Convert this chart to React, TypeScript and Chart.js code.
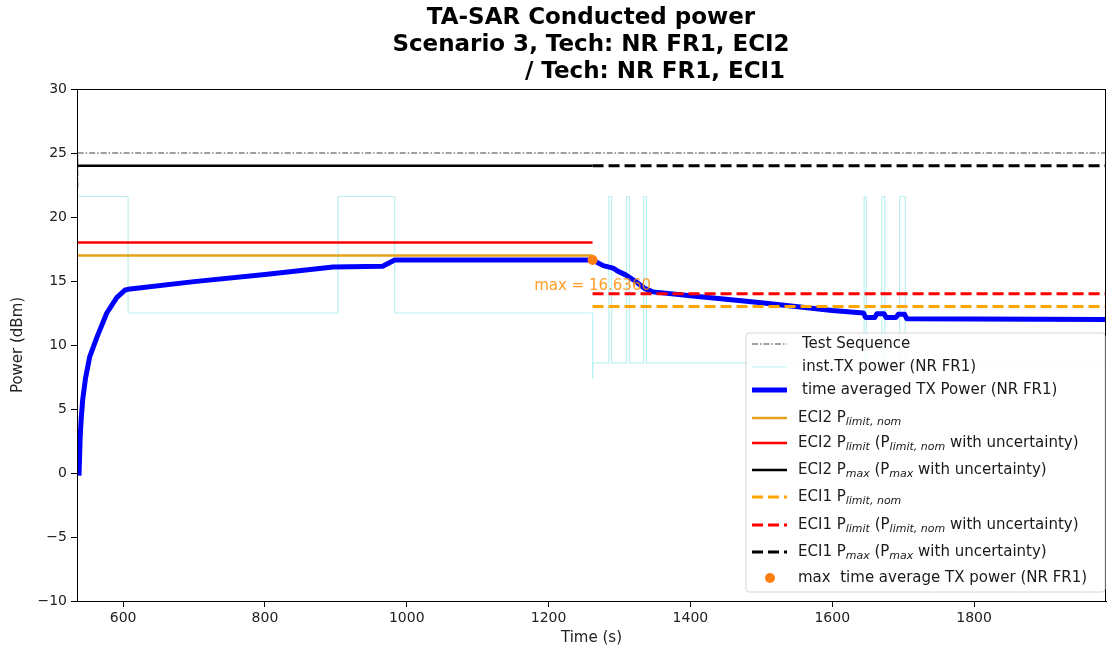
import React, { useEffect, useRef } from 'react';
import { Chart, registerables } from 'chart.js';

Chart.register(...registerables);

// ---------- text ----------
const titleLines = ['TA-SAR Conducted power', 'Scenario 3, Tech: NR FR1, ECI2', '/ Tech: NR FR1, ECI1'];
const xAxisLabel = 'Time (s)';
const yAxisLabel = 'Power (dBm)';

// ---------- axes ----------
const xTicks = [600, 800, 1000, 1200, 1400, 1600, 1800];
const yTicks = [-10, -5, 0, 5, 10, 15, 20, 25, 30];
const xMin = 535;
const xMax = 1986;
const yMin = -10;
const yMax = 30;

// ---------- series ----------
const testSeqTime = [536, 536, 1986];
const testSeqPower = [22.3, 25, 25];

const instTime = [536, 607, 607, 903, 903, 983, 983, 1262, 1262, 1263,
  1285, 1285, 1289, 1289, 1310, 1310, 1314, 1314, 1334, 1334, 1338, 1338,
  1645, 1645, 1648, 1648, 1670, 1670, 1674, 1674, 1695, 1695, 1703, 1703, 1986];
const instPower = [21.6, 21.6, 12.5, 12.5, 21.6, 21.6, 12.5, 12.5, 7.4, 8.6,
  8.6, 21.6, 21.6, 8.6, 8.6, 21.6, 21.6, 8.6, 8.6, 21.6, 21.6, 8.6,
  8.6, 21.6, 21.6, 8.6, 8.6, 21.6, 21.6, 8.6, 8.6, 21.6, 21.6, 8.6, 8.6];

const avgTime = [537.8, 539.5, 541, 543, 547, 553, 563, 577, 591, 603, 607,
  700, 800, 896, 966, 983, 1262,
  1277, 1291, 1298, 1308, 1322, 1336, 1347, 1400, 1500, 1600, 1644,
  1647, 1660, 1663, 1673, 1676, 1690, 1693, 1702, 1705, 1986];
const avgPower = [-0.2, 2.8, 4.3, 5.7, 7.4, 9.1, 10.6, 12.5, 13.7, 14.3, 14.35,
  14.95, 15.5, 16.1, 16.15, 16.636, 16.636,
  16.2, 16.0, 15.75, 15.5, 15.0, 14.4, 14.15, 13.85, 13.3, 12.7, 12.5,
  12.15, 12.15, 12.45, 12.45, 12.15, 12.15, 12.4, 12.4, 12.05, 12.0];

const eci2Time = [535, 1262];
const eci1Time = [1262, 1986];
const eci2PlimitNom = [17, 17];
const eci2Plimit = [18, 18];
const eci2Pmax = [24, 24];
const eci1PlimitNom = [13, 13];
const eci1Plimit = [14, 14];
const eci1Pmax = [24, 24];

const FONT = '"DejaVu Sans", "Liberation Sans", sans-serif';

type Seg = [string, boolean?];

const toXY = (xs: number[], ys: number[]) => xs.map((x, i) => ({ x, y: ys[i] }));

export default function App() {
  const ref = useRef<HTMLCanvasElement | null>(null);

  useEffect(() => {
    const canvas = ref.current;
    if (!canvas) return;

    let maxIdx = 0;
    avgPower.forEach((v, i) => { if (v > avgPower[maxIdx]) maxIdx = i; });
    avgPower.forEach((v, i) => { if (v === avgPower[maxIdx]) maxIdx = i; });
    const maxT = avgTime[maxIdx];
    const maxP = avgPower[maxIdx];

    const dash = [11, 5];

    const datasets: any[] = [
      { label: 'Test Sequence', legend: [['Test Sequence']] as Seg[], data: toXY(testSeqTime, testSeqPower), borderColor: '#808080', borderWidth: 1.5, borderDash: [6, 2, 1.5, 2], order: 9 },
      { label: 'inst.TX power (NR FR1)', legend: [['inst.TX power (NR FR1)']] as Seg[], data: toXY(instTime, instPower), borderColor: 'rgba(175,238,238,0.85)', borderWidth: 1.2, order: 8 },
      { label: 'time averaged TX Power (NR FR1)', legend: [['time averaged TX Power (NR FR1)']] as Seg[], data: toXY(avgTime, avgPower), borderColor: '#0000ff', borderWidth: 5, order: 7 },
      { label: 'ECI2 Plimit,nom', legend: [['ECI2 P'], ['limit, nom', true]] as Seg[], data: toXY(eci2Time, eci2PlimitNom), borderColor: '#e6a21c', borderWidth: 2.5, order: 6 },
      { label: 'ECI2 Plimit', legend: [['ECI2 P'], ['limit', true], [' (P'], ['limit, nom', true], [' with uncertainty)']] as Seg[], data: toXY(eci2Time, eci2Plimit), borderColor: '#ff0000', borderWidth: 2.5, order: 5 },
      { label: 'ECI2 Pmax', legend: [['ECI2 P'], ['max', true], [' (P'], ['max', true], [' with uncertainty)']] as Seg[], data: toXY(eci2Time, eci2Pmax), borderColor: '#000000', borderWidth: 2.5, order: 4 },
      { label: 'ECI1 Plimit,nom', legend: [['ECI1 P'], ['limit, nom', true]] as Seg[], data: toXY(eci1Time, eci1PlimitNom), borderColor: '#ffa500', borderWidth: 3, borderDash: dash, order: 3 },
      { label: 'ECI1 Plimit', legend: [['ECI1 P'], ['limit', true], [' (P'], ['limit, nom', true], [' with uncertainty)']] as Seg[], data: toXY(eci1Time, eci1Plimit), borderColor: '#ff0000', borderWidth: 3, borderDash: dash, order: 2 },
      { label: 'ECI1 Pmax', legend: [['ECI1 P'], ['max', true], [' (P'], ['max', true], [' with uncertainty)']] as Seg[], data: toXY(eci1Time, eci1Pmax), borderColor: '#000000', borderWidth: 3, borderDash: dash, order: 1 },
      { label: 'max time average TX power (NR FR1)', legend: [['max  time average TX power (NR FR1)']] as Seg[], data: [{ x: maxT, y: maxP }], borderColor: '#ff7f0e', backgroundColor: '#ff7f0e', showLine: false, pointRadius: 5, pointBorderWidth: 0, order: 0 },
    ];
    datasets.forEach((d) => {
      if (d.pointRadius === undefined) d.pointRadius = 0;
      d.fill = false;
      d.tension = 0;
      d.borderJoinStyle = 'round';
    });

    const drawRich = (ctx: CanvasRenderingContext2D, segs: Seg[], x: number, y: number) => {
      let cx = x;
      for (const [t, sub] of segs) {
        ctx.font = sub ? `italic 11px ${FONT}` : `15px ${FONT}`;
        ctx.fillText(t, cx, sub ? y + 4 : y);
        cx += ctx.measureText(t).width;
      }
    };

    const overlay = {
      id: 'overlay',
      afterDatasetsDraw(chart: any) {
        const ctx: CanvasRenderingContext2D = chart.ctx;
        const { chartArea } = chart;
        const xs = chart.scales.x;
        const ys = chart.scales.y;
        ctx.save();
        // frame
        ctx.strokeStyle = '#000';
        ctx.lineWidth = 1;
        ctx.strokeRect(chartArea.left + 0.5, chartArea.top + 0.5, chartArea.right - chartArea.left - 1, chartArea.bottom - chartArea.top);

        // max annotation
        const px = xs.getPixelForValue(maxT);
        const py = ys.getPixelForValue(maxP);
        ctx.fillStyle = 'rgba(255,140,0,0.85)';
        ctx.font = `15px ${FONT}`;
        ctx.textAlign = 'center';
        ctx.textBaseline = 'middle';
        ctx.fillText(`max = ${maxP.toFixed(4)}`, px, py + 26);

        // legend
        const lx = 746, ly = 333, lw = 359, lh = 259;
        ctx.beginPath();
        const r = 3;
        ctx.moveTo(lx + r, ly);
        ctx.arcTo(lx + lw, ly, lx + lw, ly + lh, r);
        ctx.arcTo(lx + lw, ly + lh, lx, ly + lh, r);
        ctx.arcTo(lx, ly + lh, lx, ly, r);
        ctx.arcTo(lx, ly, lx + lw, ly, r);
        ctx.closePath();
        ctx.fillStyle = 'rgba(255,255,255,0.85)';
        ctx.fill();
        ctx.strokeStyle = '#d6d6d6';
        ctx.lineWidth = 1;
        ctx.stroke();

        const rowOffsets = [11, 34, 57, 85, 110, 137, 164, 192, 219, 245];
        ctx.textAlign = 'left';
        ctx.textBaseline = 'middle';
        chart.data.datasets.forEach((d: any, i: number) => {
          const y = ly + rowOffsets[i];
          if (d.showLine === false) {
            ctx.beginPath();
            ctx.fillStyle = d.backgroundColor;
            ctx.arc(770, y, 5, 0, Math.PI * 2);
            ctx.fill();
          } else {
            ctx.beginPath();
            ctx.strokeStyle = d.borderColor;
            ctx.lineWidth = d.borderWidth;
            ctx.setLineDash(d.borderDash || []);
            ctx.moveTo(752, y);
            ctx.lineTo(787, y);
            ctx.stroke();
            ctx.setLineDash([]);
          }
          ctx.fillStyle = '#1a1a1a';
          drawRich(ctx, d.legend, i < 3 ? 802 : 798, y);
        });

        // title
        ctx.fillStyle = '#000';
        ctx.font = `bold 23px ${FONT}`;
        ctx.textAlign = 'center';
        ctx.textBaseline = 'middle';
        ctx.fillText(titleLines[0], 591, 18);
        ctx.fillText(titleLines[1], 591, 45);
        ctx.fillText(titleLines[2], 655, 72);
        ctx.restore();
      },
    };

    const chart = new Chart(canvas, {
      type: 'line',
      data: { datasets },
      options: {
        animation: false,
        responsive: false,
        layout: { autoPadding: false, padding: { top: 89, right: 2, left: 0, bottom: 0 } },
        plugins: { legend: { display: false }, title: { display: false }, tooltip: { enabled: false } },
        scales: {
          x: {
            type: 'linear',
            min: xMin,
            max: xMax,
            afterFit: (s: any) => { s.height = 50; },
            afterBuildTicks: (s: any) => { s.ticks = xTicks.map((v) => ({ value: v })); },
            ticks: { color: '#222', font: { family: FONT, size: 14 }, padding: 3, maxRotation: 0, autoSkip: false, callback: (v: any) => String(v) },
            grid: { display: true, drawOnChartArea: false, drawTicks: true, tickLength: 6, color: '#000' },
            border: { display: true, color: '#000', width: 1 },
            title: { display: true, text: xAxisLabel, color: '#222', font: { family: FONT, size: 15 }, padding: { top: 0, bottom: 4 } },
          },
          y: {
            type: 'linear',
            min: yMin,
            max: yMax,
            afterFit: (s: any) => { s.width = 77; },
            afterBuildTicks: (s: any) => { s.ticks = yTicks.map((v) => ({ value: v })); },
            ticks: { color: '#222', font: { family: FONT, size: 14 }, padding: 4, callback: (v: any) => String(v).replace('-', '\u2212') },
            grid: { display: true, drawOnChartArea: false, drawTicks: true, tickLength: 6, color: '#000' },
            border: { display: true, color: '#000', width: 1 },
            title: { display: true, text: yAxisLabel, color: '#222', font: { family: FONT, size: 15 }, padding: { top: 9, bottom: 0 } },
          },
        },
      },
      plugins: [overlay],
    } as any);

    return () => chart.destroy();
  }, []);

  return (
    <div style={{ position: 'fixed', left: 0, top: 0, width: 1108, height: 651, background: '#fff' }}>
      <canvas ref={ref} width={1108} height={651} style={{ display: 'block' }} />
    </div>
  );
}
